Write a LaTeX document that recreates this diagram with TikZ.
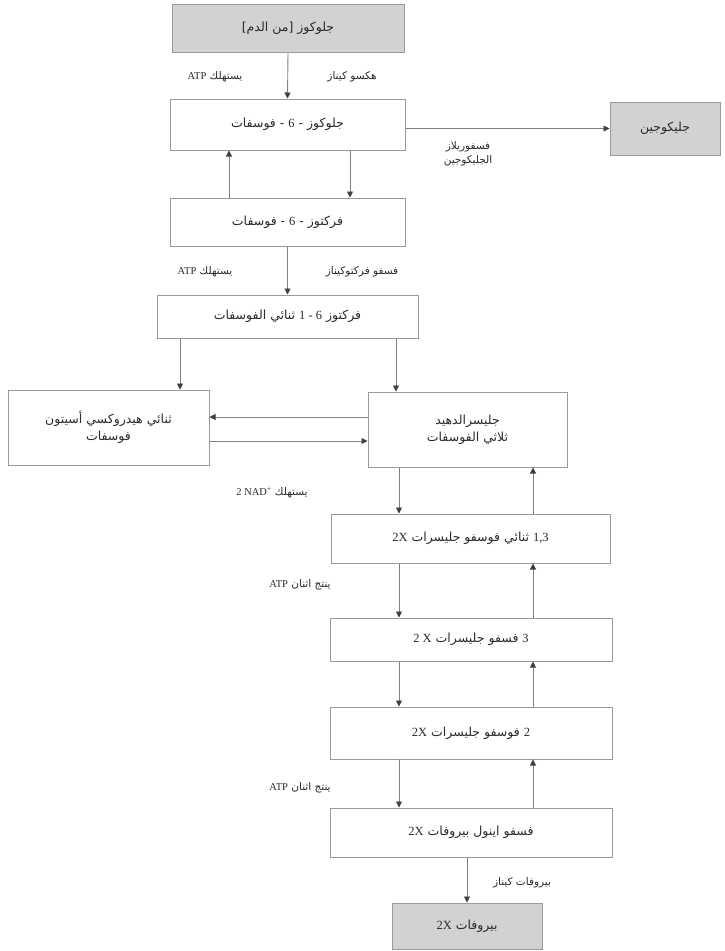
\documentclass[tikz,border=0pt]{standalone}
\usepackage{fontspec}
\setmainfont{Liberation Serif}
\newfontfamily\arfont[Script=Arabic]{DejaVu Sans}
\TeXXeTstate=1
\usetikzlibrary{arrows.meta}
\definecolor{boxline}{HTML}{9A9A9A}
\definecolor{boxfill}{HTML}{D2D2D2}
\definecolor{arrline}{HTML}{808080}
\definecolor{txt}{HTML}{2A2A2A}
\newcommand\lat[1]{{\rmfamily #1}}
\newcommand\rtl[1]{\beginR #1\endR}
\tikzset{
  boxbase/.style={draw=boxline, line width=1pt, inner sep=0pt, align=center, text=txt,
    font=\arfont\fontsize{12.5}{17}\selectfont},
  whitebox/.style={boxbase, fill=white},
  graybox/.style={boxbase, fill=boxfill},
  lbl/.style={inner sep=0pt, text=txt, align=center, font=\arfont\fontsize{10.5}{14}\selectfont},
  arr/.style={draw=arrline, line width=0.9pt, -{Triangle[length=6pt,width=6pt,color=black!75]}}
}
\newcommand\mkbox[7]{\node[#6, minimum width={(#4-#2)*1pt}, minimum height={(#5-#3)*1pt}]
  (#1) at ({(#2+#4)/2},{(#3+#5)/2}) {#7};}
\begin{document}
\begin{tikzpicture}[x=1pt,y=-1pt]
\useasboundingbox[fill=white] (0,0) rectangle (724,951);
% boxes
\mkbox{top}{172}{4}{404}{52}{graybox}{\rtl{جلوكوز [من الدم]}}
\mkbox{g6p}{170}{99}{405}{150}{whitebox}{\rtl{جلوكوز - \lat{6} - فوسفات}}
\mkbox{gly}{610}{102}{720}{155}{graybox}{\rtl{جليكوجين}}
\mkbox{f6p}{170}{198}{405}{246}{whitebox}{\rtl{فركتوز - \lat{6} - فوسفات}}
\mkbox{fbp}{157}{295}{418}{338}{whitebox}{\rtl{فركتوز \lat{\beginL 1 - 6\endL} ثنائي الفوسفات}}
\mkbox{dhap}{8}{390}{209}{465}{whitebox}{\rtl{ثنائي هيدروكسي أسيتون}\\\rtl{فوسفات}}
\mkbox{gap}{368}{392}{567}{467}{whitebox}{\rtl{جليسرالدهيد}\\\rtl{ثلاثي الفوسفات}}
\mkbox{bpg}{331}{514}{610}{563}{whitebox}{\rtl{\lat{\beginL 1,3\endL} ثنائي فوسفو جليسرات \lat{\beginL 2X\endL}}}
\mkbox{pga}{330}{618}{612}{661}{whitebox}{\rtl{\lat{3} فسفو جليسرات \lat{\beginL 2 X\endL}}}
\mkbox{pgb}{330}{707}{612}{759}{whitebox}{\rtl{\lat{2} فوسفو جليسرات \lat{\beginL 2X\endL}}}
\mkbox{pep}{330}{808}{612}{857}{whitebox}{\rtl{فسفو اينول بيروفات \lat{\beginL 2X\endL}}}
\mkbox{pyr}{392}{903}{542}{949}{graybox}{\rtl{بيروفات \lat{\beginL 2X\endL}}}
% column / row coordinates
\coordinate (xA) at (350,0);
\coordinate (xB) at (229,0);
\coordinate (xL) at (180,0);
\coordinate (xR) at (396,0);
\coordinate (xD) at (399,0);
\coordinate (xU) at (533,0);
\coordinate (xP) at (467,0);
\coordinate (yH1) at (0,417);
\coordinate (yH2) at (0,441);
% connectors
\draw[arr] (top.south) -- (g6p.north);
\draw[arr] (g6p.east |- gly.west) -- (gly.west);
\draw[arr] (g6p.south -| xA) -- (f6p.north -| xA);
\draw[arr] (f6p.north -| xB) -- (g6p.south -| xB);
\draw[arr] (f6p.south) -- (fbp.north -| f6p.south);
\draw[arr] (fbp.south -| xL) -- (dhap.north -| xL);
\draw[arr] (fbp.south -| xR) -- (gap.north -| xR);
\draw[arr] (gap.west |- yH1) -- (dhap.east |- yH1);
\draw[arr] (dhap.east |- yH2) -- (gap.west |- yH2);
\draw[arr] (gap.south -| xD) -- (bpg.north -| xD);
\draw[arr] (bpg.north -| xU) -- (gap.south -| xU);
\draw[arr] (bpg.south -| xD) -- (pga.north -| xD);
\draw[arr] (pga.north -| xU) -- (bpg.south -| xU);
\draw[arr] (pga.south -| xD) -- (pgb.north -| xD);
\draw[arr] (pgb.north -| xU) -- (pga.south -| xU);
\draw[arr] (pgb.south -| xD) -- (pep.north -| xD);
\draw[arr] (pep.north -| xU) -- (pgb.south -| xU);
\draw[arr] (pep.south -| xP) -- (pyr.north -| xP);
% labels
\node[lbl] (l1) at (215,77) {\rtl{يستهلك \lat{\beginL ATP\endL}}};
\node[lbl] (l2) at (352,77) {\rtl{هكسو كيناز}};
\node[lbl] (l3) at (468,154) {\rtl{فسفوريلاز}\\\rtl{الجليكوجين}};
\node[lbl] (l4) at (205,272) {\rtl{يستهلك \lat{\beginL ATP\endL}}};
\node[lbl] (l5) at (362,272) {\rtl{فسفو فركتوكيناز}};
\node[lbl] (l6) at (272,493) {\rtl{يستهلك \lat{\beginL 2 NAD\textsuperscript{+}\endL}}};
\node[lbl] (l7) at (300,585) {\rtl{ينتج اثنان \lat{\beginL ATP\endL}}};
\node[lbl] (l8) at (300,788) {\rtl{ينتج اثنان \lat{\beginL ATP\endL}}};
\node[lbl] (l9) at (522,883) {\rtl{بيروفات كيناز}};
\end{tikzpicture}
\end{document}
